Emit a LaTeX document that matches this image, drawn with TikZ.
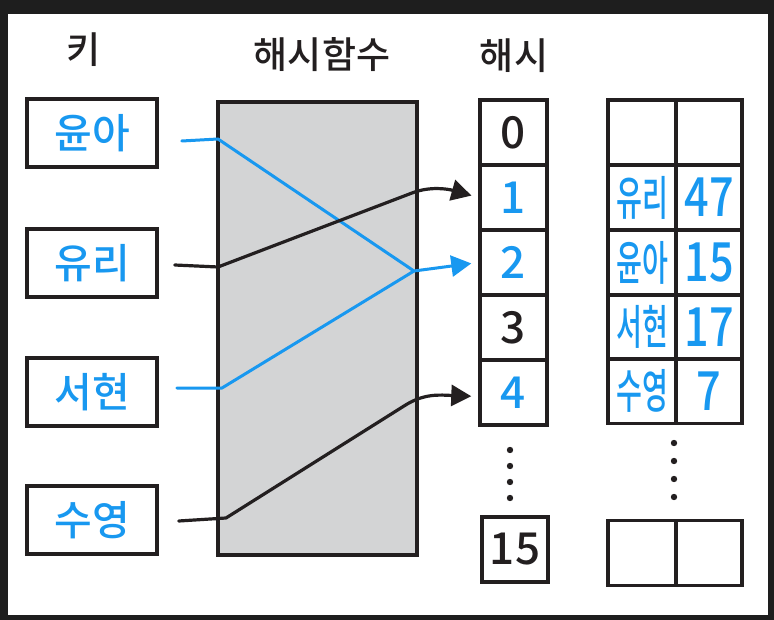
\documentclass[tikz,border=0pt]{standalone}
\usepackage{fontspec}
\usepackage{graphicx}
\newfontfamily\kr{Noto Sans CJK KR}[UprightFont=* Medium, BoldFont=* Bold]
\usetikzlibrary{arrows.meta,calc}
\definecolor{kblue}{RGB}{24,152,240}
\definecolor{kblack}{RGB}{35,31,32}
\definecolor{kgray}{RGB}{211,212,213}
\definecolor{kframe}{RGB}{30,30,30}
\tikzset{
  line/.style={draw=kblack, line width=3.5pt},
  keybox/.style={line, minimum width=130pt, minimum height=68pt, inner sep=0pt, text=kblue, font=\kr\fontsize{41}{41}\selectfont},
  cell/.style={line, minimum width=67pt, minimum height=65pt, inner sep=0pt, font=\kr\fontsize{44}{44}\selectfont},
  tcell/.style={line, minimum height=65pt, inner sep=0pt, text=kblue, font=\kr},
  title/.style={font=\kr\fontsize{37}{37}\selectfont, text=kblack, inner sep=0pt},
  bcon/.style={draw=kblue, line width=3pt, line cap=round, line join=round},
  kcon/.style={draw=kblack, line width=3.2pt, line cap=round, line join=round},
  arr/.style={-{Triangle[length=20pt,width=21pt]}, shorten >=7pt},
}
\newcommand{\kname}[1]{\scalebox{0.6}[1]{\fontsize{47}{47}\selectfont #1}}
\newcommand{\knum}[1]{\scalebox{0.8}[1]{\fontsize{54}{54}\selectfont #1}}
\begin{document}
\begin{tikzpicture}[x=1pt,y=-1pt]
\fill[kframe] (0,0) rectangle (774,620);
\fill[white] (8,14) rectangle (768,615);
\useasboundingbox (0,0) rectangle (774,620);

% titles
\node[title] (tkey) at (84,50) {키};
\node[title] (thf) at (322,55) {해시함수};
\node[title] (thash) at (514,56) {해시};

% hash function
\node[line, fill=kgray, minimum width=199pt, minimum height=453pt, inner sep=0pt] (hf) at (317.5,328.5) {};

% keys
\node[keybox] (yuna) at (92,133) {윤아};
\node[keybox] (yuri) at (92,263) {유리};
\node[keybox] (seo)  at (92,392) {서현};
\node[keybox] (soo)  at (92,520) {수영};

% hash column
\node[cell, text=kblack] (c0) at (513.5,132.5) {0};
\node[cell, text=kblue]  (c1) at (513.5,197.5) {1};
\node[cell, text=kblue]  (c2) at (513.5,262.5) {2};
\node[cell, text=kblack] (c3) at (513.5,327.5) {3};
\node[cell, text=kblue]  (c4) at (513.5,392.5) {4};
\node[cell, text=kblack, minimum width=66pt] (c15) at (515,549.5) {15};

% table
\node[tcell, minimum width=68pt] (t0a) at (642,132.5) {};
\node[tcell, minimum width=66pt] (t0b) at (709,132.5) {};
\node[tcell, minimum width=68pt] (t1a) at (642,197.5) {\kname{유리}};
\node[tcell, minimum width=66pt] (t1b) at (709,197.5) {\knum{47}};
\node[tcell, minimum width=68pt] (t2a) at (642,262.5) {\kname{윤아}};
\node[tcell, minimum width=66pt] (t2b) at (709,262.5) {\knum{15}};
\node[tcell, minimum width=68pt] (t3a) at (642,327) {\kname{서현}};
\node[tcell, minimum width=66pt] (t3b) at (709,327) {\knum{17}};
\node[tcell, minimum width=68pt] (t4a) at (642,391) {\kname{수영}};
\node[tcell, minimum width=66pt] (t4b) at (709,391) {\knum{7}};
\node[tcell, minimum width=68pt] (tea) at (642,553) {};
\node[tcell, minimum width=66pt] (teb) at (709,553) {};

% dots
\foreach \y in {450,466,482,498} \fill[kblack] (510,\y) circle[radius=3.2pt];
\foreach \y in {443,461,479,497} \fill[kblack] (674,\y) circle[radius=3.2pt];

% bend points
\coordinate (a1) at (218,139);
\coordinate (m2) at (414,271);
\coordinate (b1) at (218,267);
\coordinate (b2) at (412,193);
\coordinate (s1) at (222,388);
\coordinate (y1) at (226,518);
\coordinate (y2) at (404,406);

% connectors
\draw[bcon, arr] ([shift={(23,8)}]yuna.east) -- (a1) -- (m2) -- (c2.west);
\draw[bcon] ([shift={(18,-4)}]seo.east) -- (s1) -- (m2);
\draw[kcon, arr] ([shift={(16,2)}]yuri.east) -- (b1) -- (b2) .. controls (430,186) and (448,189) .. (c1.west);
\draw[kcon, arr] ([shift={(20,1)}]soo.east) -- (y1) -- (y2) .. controls (424,393) and (440,395) .. ([yshift=-4pt]c4.west);
\end{tikzpicture}
\end{document}
